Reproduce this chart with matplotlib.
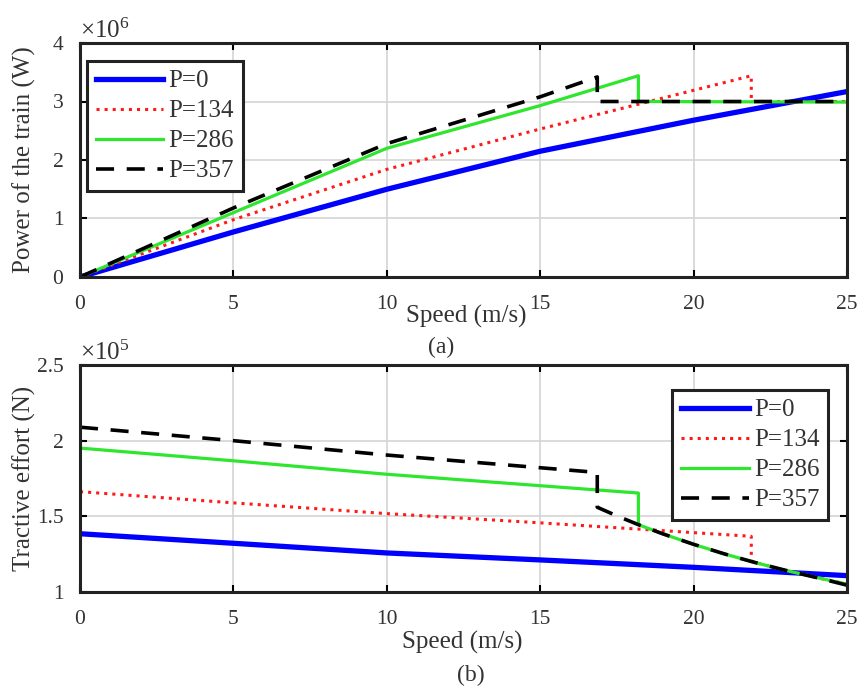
import matplotlib
matplotlib.use("Agg")
import matplotlib.pyplot as plt

plt.rcParams['font.family'] = ['Liberation Serif', 'DejaVu Serif']
plt.rcParams['mathtext.fontset'] = 'custom'
plt.rcParams['mathtext.rm'] = 'Liberation Serif'
plt.rcParams['mathtext.default'] = 'regular'

labels = ['P=0', 'P=134', 'P=286', 'P=357']

# (a) power of the train, x10^6 W
speed_a0 = [0, 5, 10, 15, 20, 25]
power_a0 = [0, 0.77, 1.50, 2.15, 2.68, 3.17]
speed_a134 = [0, 5, 10, 15, 21.88, 21.88, 25]
power_a134 = [0, 0.98, 1.84, 2.53, 3.44, 3.0, 3.0]
speed_a286 = [0, 5, 10, 15, 18.2, 18.2, 25]
power_a286 = [0, 1.10, 2.20, 2.93, 3.44, 3.0, 2.99]
speed_a357 = [0, 5, 10, 15, 16.86, 16.86, 25]
power_a357 = [0, 1.18, 2.28, 3.08, 3.42, 3.0, 3.0]

# (b) tractive effort, x10^5 N
speed_b0 = [0, 5, 10, 15, 20, 25]
force_b0 = [1.385, 1.322, 1.258, 1.212, 1.163, 1.108]
speed_b134 = [0, 5, 10, 15, 21.88, 21.88, 22, 23, 24, 25]
force_b134 = [1.663, 1.589, 1.518, 1.457, 1.368, 1.205, 1.195, 1.143, 1.096, 1.052]
speed_b286 = [0, 5, 10, 18.2, 18.2, 19, 20, 21, 22, 23, 24, 25]
force_b286 = [1.951, 1.867, 1.778, 1.654, 1.445, 1.384, 1.315, 1.252, 1.195, 1.143, 1.096, 1.052]
speed_b357 = [0, 5, 10, 16.86, 16.86, 17.5, 18.2, 19, 20, 21, 22, 23, 24, 25]
force_b357 = [2.089, 2.0, 1.905, 1.79, 1.56, 1.503, 1.445, 1.384, 1.315, 1.252, 1.195, 1.143, 1.096, 1.045]

styles = [
    dict(color='#0000ff', lw=3.8, ls='-'),
    dict(color='#ff1a1a', lw=2.2, ls=':'),
    dict(color='#2ee62e', lw=2.3, ls='-'),
    dict(color='black', lw=2.6, ls=(0, (5, 3.5))),
]

fig = plt.figure(figsize=(8.62, 6.88), dpi=100)
ax1 = fig.add_axes([80 / 862, 1 - 277 / 688, 767 / 862, 234 / 688])
ax2 = fig.add_axes([80 / 862, 1 - 592 / 688, 767 / 862, 227 / 688])

series_a = [(speed_a0, power_a0), (speed_a134, power_a134),
            (speed_a286, power_a286), (speed_a357, power_a357)]
series_b = [(speed_b0, force_b0), (speed_b134, force_b134),
            (speed_b286, force_b286), (speed_b357, force_b357)]

for (x, y), st, lab in zip(series_a, styles, labels):
    ax1.plot(x, y, label=lab, **st)
for (x, y), st, lab in zip(series_b, styles, labels):
    ax2.plot(x, y, label=lab, **st)

ax1.set_xlim(0, 25)
ax1.set_ylim(0, 4)
ax1.set_yticks([0, 1, 2, 3, 4])
ax2.set_xlim(0, 25)
ax2.set_ylim(1, 2.5)
ax2.set_yticks([1, 1.5, 2, 2.5])
ax2.set_yticklabels(['1', '1.5', '2', '2.5'])

legend_anchor = {ax1: ('upper left', (7 / 767, 1 - 18 / 234)),
                 ax2: ('upper right', (1 - 19 / 767, 1 - 25 / 227))}

for ax in (ax1, ax2):
    ax.set_xticks([0, 5, 10, 15, 20, 25])
    ax.grid(True, color='#d4d4d4', lw=1.2)
    ax.set_axisbelow(True)
    ax.tick_params(direction='in', top=True, right=True, length=5, width=1.5,
                   labelsize=15.5, colors='black', labelcolor='#333333')
    ax.tick_params(axis='x', pad=13)
    ax.tick_params(axis='y', pad=12)
    for sp in ax.spines.values():
        sp.set_linewidth(2.2)
        sp.set_color('#222222')
    loc, anchor = legend_anchor[ax]
    leg = ax.legend(loc=loc, bbox_to_anchor=anchor, borderaxespad=0,
                    fontsize=18, handlelength=2.7, handletextpad=0.2,
                    labelspacing=0.3, borderpad=0.35,
                    fancybox=False, framealpha=1, edgecolor='#222222')
    leg.get_frame().set_linewidth(2.2)
    for t in leg.get_texts():
        t.set_color('#333333')

ax1.set_ylabel('Power of the train (W)', fontsize=18, color='#333333')
ax2.set_ylabel('Tractive effort (N)', fontsize=18, color='#333333')
ax1.yaxis.set_label_coords(-0.058, 0.5)
ax2.yaxis.set_label_coords(-0.058, 0.5)

ax1.text(0.0, 1.0, '×10$^{6}$', transform=ax1.transAxes, fontsize=18,
         color='#333333', ha='left', va='bottom')
ax2.text(0.0, 1.0, '×10$^{5}$', transform=ax2.transAxes, fontsize=18,
         color='#333333', ha='left', va='bottom')

fig.text(466 / 862, 1 - 316 / 688, 'Speed (m/s)', fontsize=18, color='#333333',
         ha='center', va='center')
fig.text(441 / 862, 1 - 347 / 688, '(a)', fontsize=17, color='#333333',
         ha='center', va='center')
fig.text(462 / 862, 1 - 642 / 688, 'Speed (m/s)', fontsize=18, color='#333333',
         ha='center', va='center')
fig.text(471 / 862, 1 - 675 / 688, '(b)', fontsize=17, color='#333333',
         ha='center', va='center')

fig.savefig('out.png', dpi=100)
